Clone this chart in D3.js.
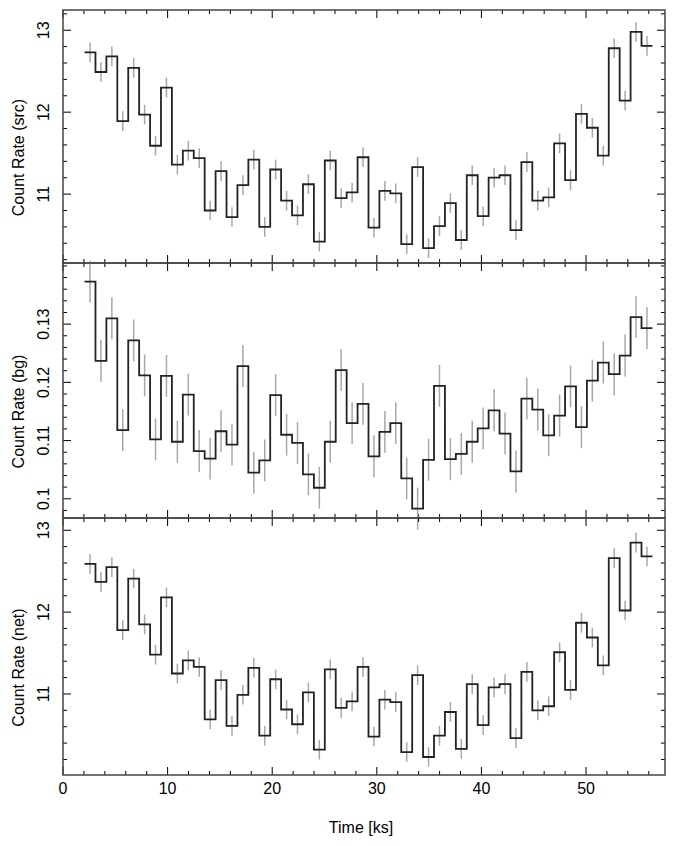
<!DOCTYPE html>
<html><head><meta charset="utf-8">
<script src="https://cdn.jsdelivr.net/npm/d3@7"></script>
<style>body{margin:0;background:#fff}svg{display:block}text{font-family:"Liberation Sans",Arial,sans-serif;font-size:16px;fill:#000}</style>
</head><body><svg id="c" width="676" height="846"></svg>
<script>
const binStart = 2.06, binWidth = 1.044;
const src = [12.73,12.49,12.68,11.89,12.54,11.97,11.59,12.30,11.36,11.53,11.44,10.80,11.28,10.72,11.11,11.42,10.60,11.30,10.92,10.74,11.12,10.42,11.41,10.95,11.02,11.45,10.59,11.04,11.01,10.39,11.33,10.34,10.61,10.89,10.44,11.23,10.73,11.20,11.23,10.56,11.39,10.92,10.96,11.62,11.17,11.98,11.81,11.47,12.78,12.14,12.98,12.81];
const bg = [0.1373,0.1237,0.1310,0.1118,0.1272,0.1212,0.1102,0.1211,0.1098,0.1179,0.1082,0.1069,0.1116,0.1093,0.1228,0.1045,0.1066,0.1178,0.1110,0.1096,0.1042,0.1019,0.1098,0.1221,0.1130,0.1163,0.1073,0.1115,0.1130,0.1035,0.0983,0.1067,0.1194,0.1068,0.1077,0.1098,0.1121,0.1152,0.1112,0.1047,0.1172,0.1153,0.1109,0.1143,0.1193,0.1123,0.1203,0.1234,0.1214,0.1246,0.1312,0.1293];
const net = [12.59,12.37,12.55,11.78,12.41,11.85,11.48,12.18,11.25,11.41,11.33,10.69,11.17,10.61,10.99,11.32,10.49,11.18,10.81,10.63,11.02,10.32,11.30,10.83,10.91,11.33,10.48,10.93,10.90,10.29,11.23,10.23,10.49,10.78,10.33,11.12,10.62,11.08,11.12,10.46,11.27,10.80,10.85,11.51,11.05,11.87,11.69,11.35,12.66,12.02,12.85,12.68];
const srcErr = 0.12, bgErr = 0.0036, netErr = 0.12;
const xTicks = [0,10,20,30,40,50];

const svg = d3.select("#c");
const L = 63, R = 665;
const x = d3.scaleLinear().domain([0,57.55]).range([L,R]);
const panels = [
  {data:src, err:srcErr, top:10, bot:263, dom:[10.159,13.247], ticks:[11,12,13], minor:0.2, label:"Count Rate (src)", fmt:d3.format("d")},
  {data:bg, err:bgErr, top:263, bot:518, dom:[0.0967,0.1405], ticks:[0.10,0.11,0.12,0.13], minor:0.002, label:"Count Rate (bg)", fmt:d=>d===0.1?"0.1":d3.format(".2f")(d)},
  {data:net, err:netErr, top:518, bot:775, dom:[10.01,13.15], ticks:[11,12,13], minor:0.2, label:"Count Rate (net)", fmt:d3.format("d")}
];
panels.forEach((p,pi)=>{
  const y = d3.scaleLinear().domain(p.dom).range([p.bot,p.top]);
  const g = svg.append("g");
  const xMinor = d3.range(0,57.5,2);
  const yMinor = d3.range(Math.ceil(p.dom[0]/p.minor)*p.minor, p.dom[1], p.minor);
  const tk = g.append("g").attr("stroke","#000").attr("stroke-width",1);
  xMinor.forEach(v=>{
    const major = Math.abs(v%10)<1e-9; const len = major?8:4;
    tk.append("line").attr("x1",x(v)).attr("x2",x(v)).attr("y1",p.bot).attr("y2",p.bot-len);
    tk.append("line").attr("x1",x(v)).attr("x2",x(v)).attr("y1",p.top).attr("y2",p.top+len);
  });
  yMinor.forEach(v=>{
    const major = p.ticks.some(t=>Math.abs(t-v)<p.minor/10); const len = major?8:4;
    tk.append("line").attr("x1",L).attr("x2",L+len).attr("y1",y(v)).attr("y2",y(v));
    tk.append("line").attr("x1",R).attr("x2",R-len).attr("y1",y(v)).attr("y2",y(v));
  });
  p.ticks.forEach(t=>{
    g.append("text").attr("transform",`translate(${L-14},${y(t)}) rotate(-90)`).attr("text-anchor","middle").text(p.fmt(t));
  });
  g.append("text").attr("transform",`translate(24,${(p.top+p.bot)/2+21}) rotate(-90)`).attr("text-anchor","middle").text(p.label);
  const eg = g.append("g").attr("stroke","#a8a8a8").attr("stroke-width",1.5);
  p.data.forEach((v,i)=>{
    const c = binStart + (i+0.5)*binWidth;
    eg.append("line").attr("x1",x(c)).attr("x2",x(c)).attr("y1",y(v-p.err)).attr("y2",y(v+p.err));
  });
  const pts = [];
  p.data.forEach((v,i)=>{ pts.push([binStart+i*binWidth,v]); pts.push([binStart+(i+1)*binWidth,v]); });
  g.append("path").attr("d",d3.line().x(d=>x(d[0])).y(d=>y(d[1]))(pts)).attr("fill","none").attr("stroke","#222").attr("stroke-width",1.8);
  g.append("rect").attr("x",L).attr("y",p.top).attr("width",R-L).attr("height",p.bot-p.top).attr("fill","none").attr("stroke","#444").attr("stroke-width",1.5);
});
xTicks.forEach(t=>svg.append("text").attr("x",x(t)).attr("y",794).attr("text-anchor","middle").text(t));
svg.append("text").attr("x",(L+R)/2-3).attr("y",833).attr("text-anchor","middle").text("Time [ks]");
</script></body></html>
